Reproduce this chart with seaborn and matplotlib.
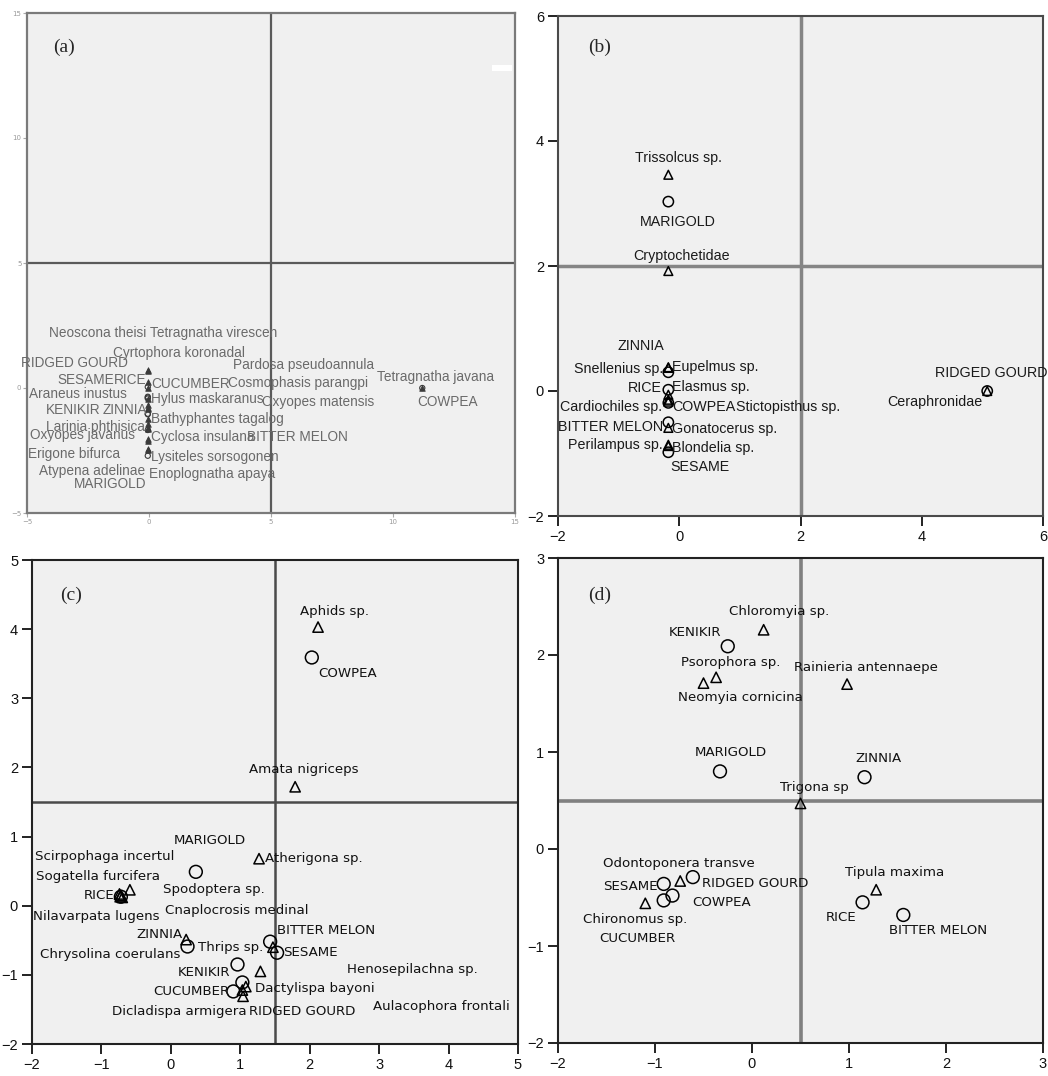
import numpy as np
import pandas as pd
import matplotlib
matplotlib.use("Agg")
import matplotlib.pyplot as plt
import seaborn as sns
from matplotlib.patches import Rectangle

sns.set_theme(style="white")
plt.rcParams['font.family'] = ['DejaVu Sans']

# ---------------- DATA ----------------
# Panel (a): spiders
a_names = ["Neoscona theisi", "Tetragnatha virescen", "Cyrtophora koronadal", "RIDGED GOURD",
           "Pardosa pseudoannula", "SESAME", "RICE", "CUCUMBER", "Cosmophasis parangpi",
           "Araneus inustus", "Hylus maskaranus", "Oxyopes matensis", "KENIKIR", "ZINNIA",
           "Bathyphantes tagalog", "Larinia phthisica", "Oxyopes javanus", "Cyclosa insulana",
           "BITTER MELON", "Erigone bifurca", "Lysiteles sorsogonen", "Atypena adelinae",
           "Enoplognatha apaya", "MARIGOLD", "Tetragnatha javana", "COWPEA"]
a_x = [-0.05, -0.05, -0.05, -0.05, -0.05, -0.05, -0.05, -0.05, -0.05, -0.05, -0.05, -0.05, -0.05,
       -0.05, -0.05, -0.05, -0.05, -0.05, -0.05, -0.05, -0.05, -0.05, -0.05, -0.05, 11.2, 11.2]
a_y = [0.72, 0.70, 0.26, 0.04, 0.02, -0.35, -0.38, -0.42, -0.45, -0.66, -0.78, -0.85, -1.03,
       -1.05, -1.24, -1.42, -1.60, -1.65, -1.68, -2.03, -2.10, -2.42, -2.48, -2.71, 0.02, 0.0]

# Panel (b): parasitoids
b_names = ["Trissolcus sp.", "MARIGOLD", "Cryptochetidae", "ZINNIA", "Eupelmus sp.", "Snellenius sp.",
           "RICE", "Elasmus sp.", "Cardiochiles sp.", "COWPEA", "Stictopisthus sp.", "BITTER MELON",
           "Gonatocerus sp.", "Perilampus sp.", "Blondelia sp.", "SESAME", "RIDGED GOURD", "Ceraphronidae"]
b_x = [-0.18, -0.18, -0.18, -0.18, -0.18, -0.18, -0.18, -0.18, -0.18, -0.18, -0.18, -0.18,
       -0.18, -0.18, -0.18, -0.18, 5.08, 5.08]
b_y = [3.46, 3.03, 1.92, 0.30, 0.38, 0.37, 0.02, -0.06, -0.14, -0.19, -0.17, -0.50,
       -0.59, -0.86, -0.88, -0.98, 0.0, 0.0]

# Panel (c): herbivores
c_names = ["Aphids sp.", "COWPEA", "Amata nigriceps", "MARIGOLD", "Atherigona sp.",
           "Scirpophaga incertul", "Sogatella furcifera", "Spodoptera sp.", "Nilavarpata lugens",
           "Cnaplocrosis medinal", "RICE", "ZINNIA", "Chrysolina coerulans", "Thrips sp.",
           "BITTER MELON", "SESAME", "KENIKIR", "Henosepilachna sp.", "CUCUMBER", "RIDGED GOURD",
           "Dactylispa bayoni", "Dicladispa armigera", "Aulacophora frontali"]
c_x = [2.12, 2.03, 1.79, 0.36, 1.27, -0.74, -0.59, -0.72, -0.73, -0.70, -0.72, 0.24, 0.22, 1.47,
       1.43, 1.53, 0.96, 1.29, 0.90, 1.03, 1.08, 1.04, 1.03]
c_y = [4.03, 3.59, 1.72, 0.49, 0.68, 0.17, 0.23, 0.15, 0.13, 0.12, 0.13, -0.59, -0.49, -0.60,
       -0.52, -0.68, -0.85, -0.95, -1.24, -1.11, -1.17, -1.31, -1.22]

# Panel (d): pollinators / others
d_names = ["Chloromyia sp.", "KENIKIR", "Psorophora sp.", "Neomyia cornicina", "Rainieria antennaepe",
           "MARIGOLD", "ZINNIA", "Trigona sp", "Odontoponera transve", "SESAME", "RIDGED GOURD",
           "Chironomus sp.", "CUCUMBER", "COWPEA", "Tipula maxima", "RICE", "BITTER MELON"]
d_x = [0.12, -0.25, -0.37, -0.50, 0.98, -0.33, 1.16, 0.50, -0.74, -0.91, -0.61, -1.10, -0.91,
       -0.82, 1.28, 1.14, 1.56]
d_y = [2.26, 2.09, 1.77, 1.71, 1.70, 0.80, 0.74, 0.47, -0.33, -0.36, -0.29, -0.56, -0.53,
       -0.48, -0.42, -0.55, -0.68]

crops = {"RIDGED GOURD", "SESAME", "RICE", "CUCUMBER", "KENIKIR", "ZINNIA",
         "BITTER MELON", "MARIGOLD", "COWPEA"}

# ---------------- LABEL PLACEMENT (pixel offsets from point, alignment) ----------------
a_lab = {"Neoscona theisi": (-2, 37, 'right'), "Tetragnatha virescen": (2, 37, 'left'),
         "Cyrtophora koronadal": (-35, 28, 'left'), "RIDGED GOURD": (-20, 24, 'right'),
         "Pardosa pseudoannula": (85, 23, 'left'), "SESAME": (-34, 17, 'right'),
         "RICE": (-1, 17, 'right'), "CUCUMBER": (3, 15, 'left'),
         "Cosmophasis parangpi": (80, 16, 'left'), "Araneus inustus": (-21, 10, 'right'),
         "Hylus maskaranus": (3, 8, 'left'), "Oxyopes matensis": (114, 7, 'left'),
         "KENIKIR": (-47, 4, 'right'), "ZINNIA": (-1, 4, 'right'),
         "Bathyphantes tagalog": (3, 0, 'left'), "Larinia phthisica": (-3, -4, 'right'),
         "Oxyopes javanus": (-13, -7, 'right'), "Cyclosa insulana": (3, -8, 'left'),
         "BITTER MELON": (200, -7, 'right'), "Erigone bifurca": (-28, -15, 'right'),
         "Lysiteles sorsogonen": (3, -16, 'left'), "Atypena adelinae": (-3, -22, 'right'),
         "Enoplognatha apaya": (1, -24, 'left'), "MARIGOLD": (-1, -28, 'right'),
         "Tetragnatha javana": (-45, 11, 'left'), "COWPEA": (-5, -14, 'left')}

b_lab = {"Trissolcus sp.": (10, 17, 'center'), "MARIGOLD": (9, -20, 'center'),
         "Cryptochetidae": (13, 15, 'center'), "ZINNIA": (-27, 26, 'center'),
         "Eupelmus sp.": (4, 0, 'left'), "Snellenius sp.": (-5, -1, 'right'),
         "RICE": (-6, 2, 'right'), "Elasmus sp.": (4, 8, 'left'),
         "Cardiochiles sp.": (-6, -7, 'right'), "COWPEA": (4, -4, 'left'),
         "Stictopisthus sp.": (68, -5, 'left'), "BITTER MELON": (-5, -5, 'right'),
         "Gonatocerus sp.": (4, -1, 'left'), "Perilampus sp.": (-6, 0, 'right'),
         "Blondelia sp.": (4, -2, 'left'), "SESAME": (2, -15, 'left'),
         "RIDGED GOURD": (4, 18, 'center'), "Ceraphronidae": (-5, -11, 'right')}

c_lab = {"Aphids sp.": (-18, 16, 'left'), "COWPEA": (6, -16, 'left'),
         "Amata nigriceps": (9, 17, 'center'), "MARIGOLD": (-22, 31, 'left'),
         "Atherigona sp.": (6, 0, 'left'), "Scirpophaga incertul": (-84, 37, 'left'),
         "Sogatella furcifera": (30, 13, 'right'), "Spodoptera sp.": (42, 6, 'left'),
         "Nilavarpata lugens": (39, -20, 'right'), "Cnaplocrosis medinal": (43, -13, 'left'),
         "RICE": (-6, 1, 'right'), "ZINNIA": (-5, 12, 'right'),
         "Chrysolina coerulans": (-6, -15, 'right'), "Thrips sp.": (-10, 0, 'right'),
         "BITTER MELON": (7, 11, 'left'), "SESAME": (6, 0, 'left'),
         "KENIKIR": (-7, -8, 'right'), "Henosepilachna sp.": (87, 2, 'left'),
         "CUCUMBER": (-4, 0, 'right'), "RIDGED GOURD": (7, -29, 'left'),
         "Dactylispa bayoni": (9, -2, 'left'), "Dicladispa armigera": (4, -15, 'right'),
         "Aulacophora frontali": (131, -16, 'left')}

d_lab = {"Chloromyia sp.": (-35, 18, 'left'), "KENIKIR": (-6, 14, 'right'),
         "Psorophora sp.": (-35, 15, 'left'), "Neomyia cornicina": (-25, -14, 'left'),
         "Rainieria antennaepe": (-53, 17, 'left'), "MARIGOLD": (11, 19, 'center'),
         "ZINNIA": (-9, 19, 'left'), "Trigona sp": (-20, 16, 'left'),
         "Odontoponera transve": (-77, 18, 'left'), "SESAME": (-6, -3, 'right'),
         "RIDGED GOURD": (9, -6, 'left'), "Chironomus sp.": (-62, -16, 'left'),
         "CUCUMBER": (-64, -38, 'left'), "COWPEA": (20, -7, 'left'),
         "Tipula maxima": (-31, 17, 'left'), "RICE": (-6, -15, 'right'),
         "BITTER MELON": (-14, -16, 'left')}

# ---------------- FIGURE ----------------
W, H = 1048, 1076
fig = plt.figure(figsize=(W / 100, H / 100), dpi=100)


def box(l, t, r, b):
    return [l / W, 1 - b / H, (r - l) / W, (b - t) / H]


def panel(ax, names, xs, ys, labels, lim, ticks, ref, tag, *, faded=False,
          fam='DejaVu Sans', fs=9.6, txtcolor='#111111', s_circ=80, s_tri=55,
          refcolor='#808080', reflw=2.5, framecolor='#222222', framelw=1.3):
    df = pd.DataFrame({"x": xs, "y": ys, "name": names})
    df["kind"] = np.where(df["name"].isin(crops), "crop", "species")
    ax.set_facecolor('#f0f0f0')
    ax.axvline(ref, color=refcolor, lw=reflw, zorder=1)
    ax.axhline(ref, color=refcolor, lw=reflw, zorder=1)
    mcol = '#3a3a3a' if faded else 'black'
    sp = df[df.kind == "species"]
    cr = df[df.kind == "crop"]
    if faded:
        sns.scatterplot(data=sp, x="x", y="y", ax=ax, marker='^', s=s_tri, color=mcol,
                        edgecolor=mcol, linewidth=0.6, zorder=3, legend=False)
        sns.scatterplot(data=cr, x="x", y="y", ax=ax, marker='o', s=s_circ, facecolor='none',
                        edgecolor=mcol, linewidth=0.8, zorder=3, legend=False)
    else:
        sns.scatterplot(data=sp, x="x", y="y", ax=ax, marker='^', s=s_tri, facecolor='none',
                        edgecolor=mcol, linewidth=1.1, zorder=3, legend=False)
        sns.scatterplot(data=cr, x="x", y="y", ax=ax, marker='o', s=s_circ, facecolor='none',
                        edgecolor=mcol, linewidth=1.1, zorder=3, legend=False)
    for _, r in df.iterrows():
        dx, dy, ha = labels[r["name"]]
        ax.annotate(r["name"], (r["x"], r["y"]), xytext=(dx, dy), textcoords='offset pixels',
                    ha=ha, va='center', fontsize=fs, family=fam, color=txtcolor, zorder=4)
    ax.set_xlim(lim)
    ax.set_ylim(lim)
    ax.set_xticks(ticks)
    ax.set_yticks(ticks)
    ax.set_xlabel('')
    ax.set_ylabel('')
    for s in ax.spines.values():
        s.set_visible(True)
        s.set_color(framecolor)
        s.set_linewidth(framelw)
    ax.text(0.0, 1.0, tag, transform=ax.transAxes, family='Liberation Serif', fontsize=14,
            ha='left', va='center')


axA = fig.add_axes(box(27, 13, 515, 513))
axB = fig.add_axes(box(558, 16, 1043, 516))
axC = fig.add_axes(box(32, 560, 518, 1044))
axD = fig.add_axes(box(558, 558, 1043, 1043))

panel(axA, a_names, a_x, a_y, a_lab, (-5, 15), [-5, 0, 5, 10, 15], 5, '', faded=True,
      fam='Liberation Sans', fs=9.8, txtcolor='#6a6a6a', s_circ=14, s_tri=16,
      refcolor='#5a5a5a', reflw=1.6, framecolor='#7a7a7a', framelw=1.6)
panel(axB, b_names, b_x, b_y, b_lab, (-2, 6), [-2, 0, 2, 4, 6], 2, '',
      fam='Liberation Sans', fs=10.3, txtcolor='#1a1a1a', s_circ=55, s_tri=40,
      refcolor='#858585', reflw=2.5, framecolor='#4a4a4a', framelw=1.5)
panel(axC, c_names, c_x, c_y, c_lab, (-2, 5), [-2, -1, 0, 1, 2, 3, 4, 5], 1.5, '',
      fam='DejaVu Sans', fs=9.6, txtcolor='#111111', s_circ=85, s_tri=55,
      refcolor='#4a4a4a', reflw=1.8, framecolor='#222222', framelw=1.5)
panel(axD, d_names, d_x, d_y, d_lab, (-2, 3), [-2, -1, 0, 1, 2, 3], 0.5, '',
      fam='DejaVu Sans', fs=9.6, txtcolor='#111111', s_circ=85, s_tri=55,
      refcolor='#808080', reflw=2.6, framecolor='#222222', framelw=1.5)

# panel tags
for ax, tag, (px, py) in [(axA, '(a)', (53, 47)), (axB, '(b)', (588, 47)),
                          (axC, '(c)', (60, 595)), (axD, '(d)', (588, 595))]:
    ax.texts[-1].remove()
    fig.text(px / W, 1 - py / H, tag, family='Liberation Serif', fontsize=14,
             ha='left', va='center')

# tick styling
for ax in (axB, axC, axD):
    ax.tick_params(axis='both', which='both', bottom=True, left=True, top=False, right=False,
                   direction='out', length=7, width=1.4, color='#222222', pad=3,
                   labelsize=10.5, labelcolor='#111111')
    for lab in ax.get_xticklabels() + ax.get_yticklabels():
        lab.set_family('Liberation Sans')
axA.tick_params(axis='both', which='both', bottom=True, left=True, direction='out', length=3,
                width=0.8, color='#aaaaaa', pad=1, labelsize=5, labelcolor='#9a9a9a')

# small white artefact in panel (a)
axA.add_patch(Rectangle((0.953, 0.885), 0.04, 0.012, transform=axA.transAxes,
                        facecolor='white', edgecolor='none', zorder=5))

fig.savefig('out.png', dpi=100)
